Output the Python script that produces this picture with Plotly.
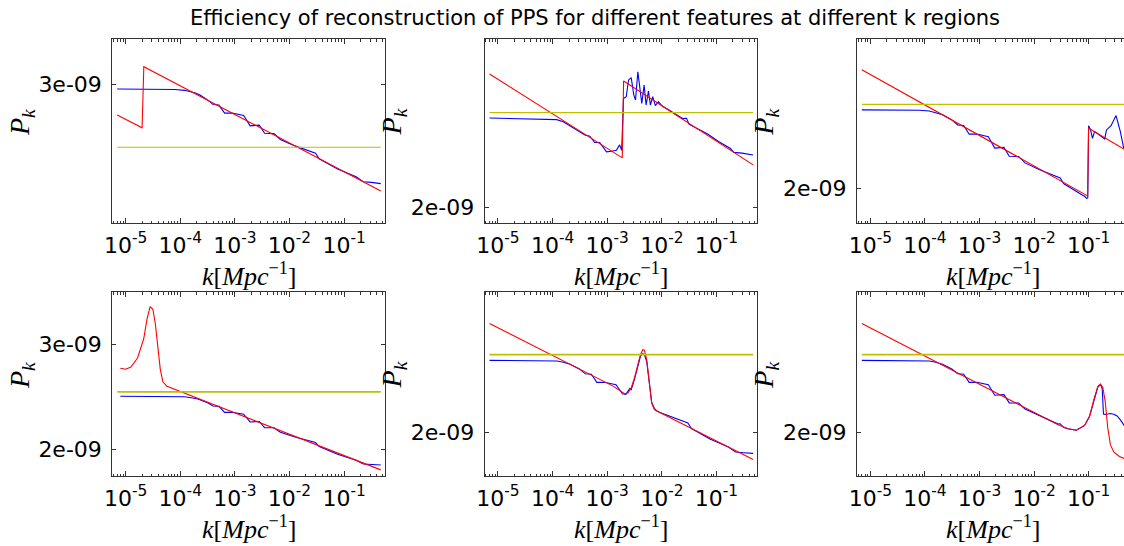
import plotly.graph_objects as go

W, H = 1124, 546

# ---------------- data ----------------
# flat starting spectrum (yellow)
k_flat = [7.0e-6, 0.47]
p_flat = [2.5e-9, 2.5e-9]

# panel 1: step at k ~ 2e-5
k_red_1 = [7.0e-6, 2.0e-5, 2.15e-5, 0.47]
p_red_1 = [2.745e-9, 2.645e-9, 3.157e-9, 2.203e-9]
k_blue_1 = [7.0e-6, 2.0e-5, 5.0e-5, 8.0e-5, 1.2e-4, 1.6e-4, 1.9e-4, 2.3e-4, 3.2e-4,
            4.0e-4, 5.1e-4, 6.5e-4, 8.9e-4, 1.45e-3, 1.9e-3, 2.8e-3, 3.5e-3, 5.2e-3,
            6.8e-3, 1.26e-2, 3.0e-2, 3.5e-2, 7.6e-2, 0.166, 0.224, 0.316, 0.47]
p_blue_1 = [2.960e-9, 2.960e-9, 2.959e-9, 2.955e-9, 2.948e-9, 2.937e-9, 2.925e-9,
            2.909e-9, 2.866e-9, 2.829e-9, 2.825e-9, 2.760e-9, 2.761e-9, 2.741e-9,
            2.660e-9, 2.665e-9, 2.604e-9, 2.601e-9, 2.557e-9, 2.510e-9, 2.457e-9,
            2.418e-9, 2.348e-9, 2.295e-9, 2.262e-9, 2.258e-9, 2.250e-9]

# panel 2: step at k ~ 2e-3
k_red_2 = [7.0e-6, 1.887e-3, 1.995e-3, 0.47]
p_red_2 = [2.738e-9, 2.247e-9, 2.693e-9, 2.210e-9]
k_blue_2 = [7.0e-6, 7.8e-5, 1.19e-4, 1.57e-4, 2.08e-4, 3.16e-4, 3.9e-4, 4.8e-4, 5.9e-4,
            7.3e-4, 9.7e-4, 1.19e-3, 1.47e-3, 1.69e-3, 1.84e-3, 1.99e-3, 2.23e-3,
            2.46e-3, 2.75e-3, 3.07e-3, 3.30e-3, 3.64e-3, 3.95e-3, 4.30e-3, 4.74e-3,
            5.15e-3, 5.69e-3, 6.18e-3, 6.81e-3, 7.62e-3, 8.64e-3, 1.0e-2, 1.37e-2,
            2.4e-2, 2.83e-2, 3.17e-2, 6.8e-2, 0.111, 0.181, 0.208, 0.295, 0.47]
p_blue_2 = [2.468e-9, 2.464e-9, 2.459e-9, 2.447e-9, 2.424e-9, 2.386e-9, 2.371e-9,
            2.365e-9, 2.330e-9, 2.330e-9, 2.279e-9, 2.282e-9, 2.287e-9, 2.317e-9,
            2.287e-9, 2.585e-9, 2.595e-9, 2.700e-9, 2.715e-9, 2.606e-9, 2.575e-9,
            2.753e-9, 2.668e-9, 2.555e-9, 2.668e-9, 2.545e-9, 2.630e-9, 2.545e-9,
            2.596e-9, 2.541e-9, 2.565e-9, 2.541e-9, 2.514e-9, 2.465e-9, 2.467e-9,
            2.431e-9, 2.378e-9, 2.334e-9, 2.297e-9, 2.276e-9, 2.272e-9, 2.262e-9]

# panel 3: step at k ~ 0.1
k_red_3 = [7.0e-6, 0.0953, 0.0993, 0.47]
p_red_3 = [2.742e-9, 1.960e-9, 2.347e-9, 2.215e-9]
k_blue_3 = [7.0e-6, 3.0e-5, 7.9e-5, 1.2e-4, 1.58e-4, 2.1e-4, 3.16e-4, 3.98e-4, 5.13e-4,
            6.46e-4, 8.9e-4, 1.45e-3, 1.9e-3, 2.8e-3, 3.5e-3, 5.2e-3, 6.8e-3, 1.26e-2,
            3.0e-2, 3.5e-2, 7.6e-2, 8.39e-2, 9.12e-2, 9.6e-2, 9.93e-2, 0.108, 0.117,
            0.128, 0.157, 0.196, 0.211, 0.256, 0.316, 0.379, 0.436, 0.47]
p_blue_3 = [2.464e-9, 2.464e-9, 2.462e-9, 2.457e-9, 2.447e-9, 2.433e-9, 2.398e-9,
            2.367e-9, 2.364e-9, 2.310e-9, 2.311e-9, 2.294e-9, 2.226e-9, 2.230e-9,
            2.178e-9, 2.177e-9, 2.140e-9, 2.101e-9, 2.056e-9, 2.024e-9, 1.965e-9,
            1.958e-9, 1.947e-9, 1.950e-9, 2.363e-9, 2.336e-9, 2.285e-9, 2.326e-9,
            2.305e-9, 2.281e-9, 2.336e-9, 2.363e-9, 2.427e-9, 2.326e-9, 2.225e-9,
            2.240e-9]

# panel 4: bump at k ~ 3e-5
k_red_4 = [8.0e-6, 1.0e-5, 1.25e-5, 1.65e-5, 2.14e-5, 2.46e-5, 2.8e-5, 3.15e-5, 3.5e-5,
           3.9e-5, 4.3e-5, 4.8e-5, 5.7e-5, 0.47]
p_red_4 = [2.740e-9, 2.729e-9, 2.752e-9, 2.850e-9, 3.067e-9, 3.310e-9, 3.476e-9,
           3.440e-9, 3.250e-9, 2.980e-9, 2.730e-9, 2.600e-9, 2.555e-9, 1.850e-9]
k_blue_4 = [8.0e-6, 3.0e-5, 7.9e-5, 1.2e-4, 1.58e-4, 2.1e-4, 3.16e-4, 3.98e-4, 5.13e-4,
            6.46e-4, 8.9e-4, 1.45e-3, 1.9e-3, 2.8e-3, 3.5e-3, 5.2e-3, 6.8e-3, 1.26e-2,
            3.0e-2, 3.5e-2, 7.6e-2, 0.166, 0.224, 0.316, 0.47]
p_blue_4 = [2.458e-9, 2.458e-9, 2.457e-9, 2.453e-9, 2.445e-9, 2.433e-9, 2.398e-9,
            2.367e-9, 2.364e-9, 2.310e-9, 2.311e-9, 2.294e-9, 2.226e-9, 2.230e-9,
            2.178e-9, 2.177e-9, 2.140e-9, 2.101e-9, 2.056e-9, 2.024e-9, 1.965e-9,
            1.920e-9, 1.893e-9, 1.889e-9, 1.885e-9]

# panel 5: bump at k ~ 4.5e-3
k_red_5 = [7.0e-6, 1.28e-3, 2.08e-3, 2.39e-3, 2.75e-3, 3.16e-3, 3.64e-3, 4.07e-3,
           4.48e-3, 4.8e-3, 5.3e-3, 5.93e-3, 6.53e-3, 7.3e-3, 9.0e-3, 0.47]
p_red_5 = [2.733e-9, 2.285e-9, 2.236e-9, 2.241e-9, 2.273e-9, 2.339e-9, 2.430e-9,
           2.500e-9, 2.536e-9, 2.533e-9, 2.464e-9, 2.295e-9, 2.177e-9, 2.136e-9,
           2.120e-9, 1.852e-9]
k_blue_5 = [7.0e-6, 3.0e-5, 7.9e-5, 1.2e-4, 1.58e-4, 2.1e-4, 3.16e-4, 3.98e-4, 5.13e-4,
            6.46e-4, 8.9e-4, 1.45e-3, 1.9e-3, 2.2e-3, 2.6e-3, 2.75e-3, 3.16e-3, 3.64e-3,
            4.07e-3, 4.48e-3, 4.8e-3, 5.3e-3, 5.93e-3, 6.53e-3, 7.3e-3, 8.0e-3, 9.0e-3,
            1.26e-2, 3.0e-2, 3.5e-2, 7.6e-2, 0.166, 0.224, 0.316, 0.47]
p_blue_5 = [2.460e-9, 2.460e-9, 2.459e-9, 2.455e-9, 2.446e-9, 2.433e-9, 2.398e-9,
            2.367e-9, 2.364e-9, 2.310e-9, 2.311e-9, 2.294e-9, 2.236e-9, 2.232e-9,
            2.270e-9, 2.262e-9, 2.330e-9, 2.420e-9, 2.490e-9, 2.507e-9, 2.500e-9,
            2.450e-9, 2.290e-9, 2.180e-9, 2.145e-9, 2.130e-9, 2.120e-9, 2.101e-9,
            2.056e-9, 2.024e-9, 1.965e-9, 1.920e-9, 1.893e-9, 1.889e-9, 1.885e-9]

# panel 6: bump at k ~ 0.16
k_red_6 = [7.0e-6, 2.75e-2, 4.18e-2, 5.93e-2, 8.4e-2, 0.1035, 0.124, 0.147, 0.164,
           0.181, 0.2, 0.223, 0.249, 0.287, 0.364, 0.47]
p_red_6 = [2.733e-9, 2.046e-9, 2.023e-9, 2.014e-9, 2.042e-9, 2.096e-9, 2.198e-9,
           2.284e-9, 2.299e-9, 2.277e-9, 2.188e-9, 2.027e-9, 1.933e-9, 1.893e-9,
           1.869e-9, 1.855e-9]
k_blue_6 = [7.0e-6, 3.0e-5, 7.9e-5, 1.2e-4, 1.58e-4, 2.1e-4, 3.16e-4, 3.98e-4, 5.13e-4,
            6.46e-4, 8.9e-4, 1.45e-3, 1.9e-3, 2.8e-3, 3.5e-3, 5.2e-3, 6.8e-3, 1.26e-2,
            2.75e-2, 3.0e-2, 3.5e-2, 4.18e-2, 5.93e-2, 8.4e-2, 0.1035, 0.124, 0.147,
            0.164, 0.176, 0.186, 0.2, 0.223, 0.249, 0.287, 0.331, 0.38, 0.436, 0.47]
p_blue_6 = [2.460e-9, 2.460e-9, 2.459e-9, 2.455e-9, 2.446e-9, 2.433e-9, 2.398e-9,
            2.367e-9, 2.364e-9, 2.310e-9, 2.311e-9, 2.294e-9, 2.226e-9, 2.230e-9,
            2.178e-9, 2.177e-9, 2.140e-9, 2.101e-9, 2.050e-9, 2.052e-9, 2.030e-9,
            2.023e-9, 2.014e-9, 2.042e-9, 2.096e-9, 2.190e-9, 2.280e-9, 2.295e-9,
            2.270e-9, 2.110e-9, 2.108e-9, 2.110e-9, 2.113e-9, 2.108e-9, 2.098e-9,
            2.075e-9, 2.050e-9, 2.030e-9]

# y-axis limits (log10 of P_k) for each panel
y_limits = [(-8.6977, -8.4659), (-8.7154, -8.5267), (-8.7394, -8.5264),
            (-8.7436, -8.4345), (-8.7531, -8.5242), (-8.7531, -8.5242)]

x_tick_vals = [1e-5, 1e-4, 1e-3, 1e-2, 1e-1]
x_tick_text = ["10<sup>-5</sup>", "10<sup>-4</sup>", "10<sup>-3</sup>",
               "10<sup>-2</sup>", "10<sup>-1</sup>"]
y_tick_vals = [2e-9, 3e-9]
y_tick_text = ["2e-09", "3e-09"]

title_text = "Efficiency of reconstruction of PPS for different features at different k regions"

reds = [(k_red_1, p_red_1), (k_red_2, p_red_2), (k_red_3, p_red_3),
        (k_red_4, p_red_4), (k_red_5, p_red_5), (k_red_6, p_red_6)]
blues = [(k_blue_1, p_blue_1), (k_blue_2, p_blue_2), (k_blue_3, p_blue_3),
         (k_blue_4, p_blue_4), (k_blue_5, p_blue_5), (k_blue_6, p_blue_6)]

# ---------------- layout geometry (pixels) ----------------
col_left = [105, 480, 855]
box_w = 274.5
row_top = [39, 292]
box_h = 184.3
decade_px = 55.0
first_tick_off = 13.5   # distance from box left to the 1e-5 tick

minor_vals = [m * 10.0 ** e for e in range(-6, 1) for m in range(2, 10)]

AXC = "#333333"
tick_font = dict(family="DejaVu Sans", size=22, color="black")
serif = "Liberation Serif"

fig = go.Figure()
layout = {}
annotations = []

for i in range(6):
    r, c = divmod(i, 3)
    n = "" if i == 0 else str(i + 1)
    L = col_left[c]
    R = min(L + box_w, W)
    top = row_top[r]
    bot = top + box_h
    x_lo = -5 - first_tick_off / decade_px
    x_hi = -5 + (R - (L + first_tick_off)) / decade_px

    kb, pb = blues[i]
    kr, pr = reds[i]
    yellow_w = 1.2 if r == 0 else 1.8
    fig.add_trace(go.Scatter(x=kb, y=pb, mode="lines", line=dict(color="#0000ff", width=1.1),
                             xaxis="x" + n, yaxis="y" + n, showlegend=False))
    fig.add_trace(go.Scatter(x=kr, y=pr, mode="lines", line=dict(color="#ff0000", width=1.1),
                             xaxis="x" + n, yaxis="y" + n, showlegend=False))
    fig.add_trace(go.Scatter(x=k_flat, y=p_flat, mode="lines",
                             line=dict(color="#bfbf00", width=yellow_w),
                             xaxis="x" + n, yaxis="y" + n, showlegend=False))

    layout["xaxis" + n] = dict(
        type="log", domain=[L / W, R / W], range=[x_lo, x_hi], anchor="y" + n,
        tickmode="array", tickvals=x_tick_vals, ticktext=x_tick_text,
        ticks="inside", ticklen=5, tickwidth=1, tickcolor=AXC,
        minor=dict(tickmode="array", tickvals=minor_vals, ticks="inside",
                   ticklen=2.5, tickwidth=1, tickcolor=AXC, showgrid=False),
        showline=True, linecolor=AXC, linewidth=1, mirror="ticks",
        showgrid=False, zeroline=False, tickfont=tick_font, ticklabelstandoff=2,
    )
    layout["yaxis" + n] = dict(
        type="log", domain=[1 - bot / H, 1 - top / H], range=list(y_limits[i]),
        anchor="x" + n, tickmode="array", tickvals=y_tick_vals, ticktext=y_tick_text,
        ticks="inside", ticklen=4, tickwidth=1, tickcolor=AXC,
        showline=True, linecolor=AXC, linewidth=1,
        mirror=("ticks" if c < 2 else False),
        showgrid=False, zeroline=False, tickfont=tick_font, ticklabelstandoff=5,
    )

    # axis titles
    annotations.append(dict(
        text="<i>k</i>[<i>Mpc</i><sup>−1</sup>]", xref="paper", yref="paper",
        x=(L + box_w / 2) / W, y=1 - (bot + 51) / H, xanchor="center", yanchor="middle",
        showarrow=False, font=dict(family=serif, size=26, color="black")))
    annotations.append(dict(
        text="<i>P</i><sub><i>k</i></sub>", xref="paper", yref="paper",
        x=(L - 92) / W, y=1 - (top + box_h / 2 - 9) / H, xanchor="center",
        yanchor="middle", textangle=-90, showarrow=False,
        font=dict(family=serif, size=28, color="black")))

annotations.append(dict(
    text=title_text, xref="paper", yref="paper", x=591.5 / W, y=1 - 18 / H,
    xanchor="center", yanchor="middle", showarrow=False,
    font=dict(family="DejaVu Sans", size=21, color="black")))

fig.update_layout(
    width=W, height=H, margin=dict(l=0, r=0, t=0, b=0),
    paper_bgcolor="white", plot_bgcolor="white",
    annotations=annotations, showlegend=False, **layout)

fig.write_html("out.html")
